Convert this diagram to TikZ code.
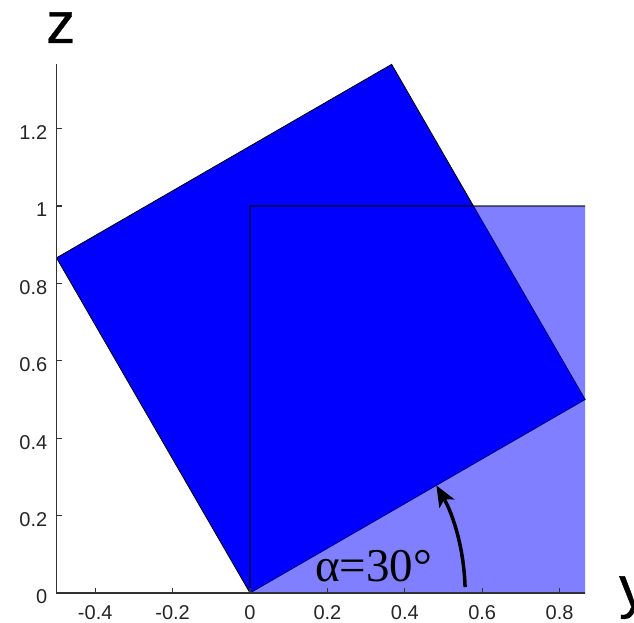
\documentclass[tikz,border=0pt]{standalone}
\usepackage{fontspec}
\setmainfont{Liberation Serif}
\newfontfamily\axfont{Liberation Sans}
\newfontfamily\bigaxfont[FakeBold=0.6]{Liberation Sans}
\usetikzlibrary{arrows.meta}
\begin{document}
\begin{tikzpicture}[x=1pt,y=1pt,
  ticklab/.style={font=\axfont\fontsize{20}{20}\selectfont, text=black!85, inner sep=0pt},
  bigax/.style={font=\bigaxfont\fontsize{58}{58}\selectfont, inner sep=0pt, anchor=base west},
  axline/.style={draw=black!80, line width=1.3pt},
  tickline/.style={draw=black!80, line width=1.1pt},
  rotsq/.style={fill=blue, draw=black, line width=0.8pt},
  unitsq/.style={fill=blue, fill opacity=0.5, draw=black, draw opacity=0.55, line width=1.8pt},
  anglearrow/.style={line width=3.5pt, -{Stealth[length=21pt,width=17pt,inset=5pt]}}
]
\useasboundingbox (0,0) rectangle (634,623);
\fill[white] (0,0) rectangle (634,623);
\begin{scope}[shift={(250,30)}, x=387pt, y=387pt]
  \coordinate (O) at (0,0);
  \coordinate (A) at (0.8660,0.5);
  \coordinate (B) at (0.3660,1.3660);
  \coordinate (C) at (-0.5,0.8660);
  \filldraw[rotsq] (O) -- (A) -- (B) -- (C) -- cycle;
  \begin{scope}
    \clip (-0.5,-0.01) rectangle (0.866,1.3661);
    \filldraw[unitsq] (0,0) rectangle (1,1);
  \end{scope}
  \coordinate (axTop) at (-0.5,1.3660);
  \coordinate (axCorner) at (-0.5,0);
  \coordinate (axRight) at (0.866,0);
  \draw[axline] (axTop) -- (axCorner) -- (axRight);
  \foreach \v/\n in {-0.4/a,-0.2/b,0/c,0.2/d,0.4/e,0.6/f,0.8/g}{
    \draw[tickline] (\v,0) -- ++(0,5pt);
    \node[ticklab, yshift=-20pt] (xt\n) at (\v,0) {\v};
  }
  \foreach \v/\n in {0/a,0.2/b,0.4/c,0.6/d,0.8/e,1/f,1.2/g}{
    \draw[tickline] (-0.5,\v) -- ++(5pt,0);
    \node[ticklab, anchor=east, xshift=-9pt, yshift=-4pt] (yt\n) at (-0.5,\v) {\v};
  }
  \coordinate (arrS) at (1.6:0.556);
  \coordinate (arrE) at (30:0.556);
  \draw[anglearrow] (arrS) arc[start angle=1.6, end angle=30, radius=0.556];
\end{scope}
\node[bigax] (zlab) at (46,580) {z};
\node[bigax] (ylab) at (619,16) {y};
\node[anchor=base west, inner sep=0pt, font=\fontsize{47}{47}\selectfont] (alab) at (315,41) {α=30°};
\end{tikzpicture}
\end{document}
